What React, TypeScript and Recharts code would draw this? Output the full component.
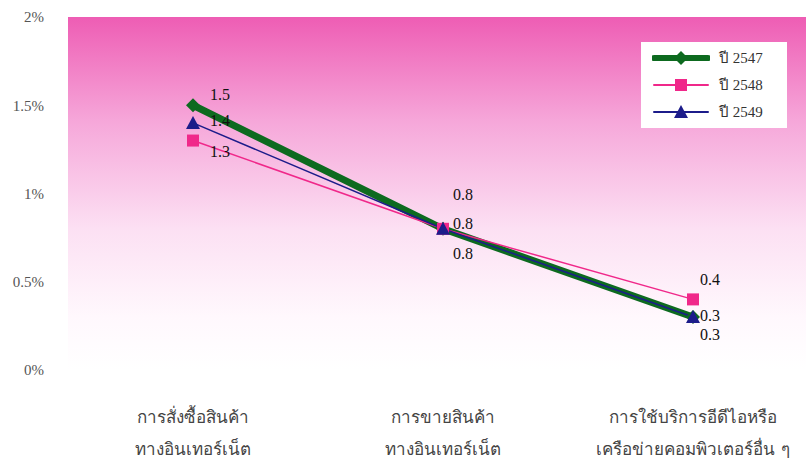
import React from "react";
import {
  CartesianGrid,
  Line,
  LineChart,
  XAxis,
  YAxis,
} from "recharts";

const categories = [
  ["การสั่งซื้อสินค้า", "ทางอินเทอร์เน็ต"],
  ["การขายสินค้า", "ทางอินเทอร์เน็ต"],
  ["การใช้บริการอีดีไอหรือ", "เครือข่ายคอมพิวเตอร์อื่น ๆ"],
];
const y2547 = [1.5, 0.8, 0.3];
const y2548 = [1.3, 0.8, 0.4];
const y2549 = [1.4, 0.8, 0.3];
const yTicks = [0, 0.5, 1, 1.5, 2];

const data = categories.map((c, i) => ({
  name: c.join("|"),
  y2547: y2547[i],
  y2548: y2548[i],
  y2549: y2549[i],
}));

// hand-placed label offsets, like the moved labels in the original
const labelOffsets: Record<string, [number, number][]> = {
  y2547: [[17, -11], [10, -34], [7, 17]],
  y2548: [[17, 11], [10, 25], [7, -20]],
  y2549: [[17, -2], [10, -5], [7, -2]],
};

const serif = "'Liberation Serif', 'Times New Roman', serif";
const thai = "Tahoma, 'DejaVu Sans', 'Noto Sans', sans-serif";

const series = [
  { key: "y2547", name: "ปี 2547", color: "#0d6a1f", width: 7, shape: "diamond" },
  { key: "y2548", name: "ปี 2548", color: "#f0288a", width: 1.5, shape: "square" },
  { key: "y2549", name: "ปี 2549", color: "#1c1c8a", width: 1.5, shape: "triangle" },
];

function Marker({ cx, cy, shape, color }: any) {
  if (cx == null || cy == null) return null;
  if (shape === "diamond")
    return <polygon points={`${cx},${cy - 7} ${cx + 7},${cy} ${cx},${cy + 7} ${cx - 7},${cy}`} fill={color} />;
  if (shape === "square")
    return <rect x={cx - 6} y={cy - 6} width={12} height={12} fill={color} />;
  return <polygon points={`${cx},${cy - 7} ${cx + 7},${cy + 6} ${cx - 7},${cy + 6}`} fill={color} />;
}

function makeLabel(key: string) {
  return (props: any) => {
    const { x, y, value, index } = props;
    const [dx, dy] = labelOffsets[key][index];
    return (
      <text x={x + dx} y={y + dy} dominantBaseline="central" fontFamily={serif} fontSize={16} fill="#111">
        {value}
      </text>
    );
  };
}

function XTick({ x, y, payload }: any) {
  const lines = String(payload.value).split("|");
  return (
    <g>
      {lines.map((l, i) => (
        <text key={i} x={x} y={y + 39 + i * 32} textAnchor="middle" dominantBaseline="central" fontFamily={thai} fontSize={17} fill="#444">
          {l}
        </text>
      ))}
    </g>
  );
}

function LegendBox() {
  return (
    <div style={{ position: "absolute", left: 641, top: 42, background: "#fff", width: 146, height: 86, boxSizing: "border-box", padding: "2px 0 0 11px" }}>
      {series.map((s) => (
        <div key={s.key} style={{ display: "flex", alignItems: "center", height: 27 }}>
          <svg width={58} height={16}>
            <line x1={2} y1={8} x2={56} y2={8} stroke={s.color} strokeWidth={s.width === 7 ? 6 : 2} strokeLinecap="round" />
            <Marker cx={29} cy={8} shape={s.shape} color={s.color} />
          </svg>
          <span style={{ marginLeft: 9, fontFamily: serif, fontSize: 15, color: "#333" }}>{s.name}</span>
        </div>
      ))}
    </div>
  );
}

export default function App() {
  return (
    <div style={{ position: "fixed", left: 0, top: 0, width: 806, height: 458, overflow: "hidden", background: "#fff" }}>
      <LineChart width={830} height={458} data={data} margin={{ top: 17, right: 12, bottom: 0, left: 0 }}>
        <defs>
          <linearGradient id="plotBg" x1="0" y1="0" x2="0" y2="1">
            <stop offset="0%" stopColor="#ee5db4" />
            <stop offset="30%" stopColor="#f6a8da" />
            <stop offset="60%" stopColor="#fce0f3" />
            <stop offset="85%" stopColor="#fff8fd" />
            <stop offset="100%" stopColor="#ffffff" />
          </linearGradient>
        </defs>
        <CartesianGrid horizontal={false} vertical={false} fill="url(#plotBg)" stroke="none" />
        <XAxis dataKey="name" height={88} axisLine={false} tickLine={false} tick={<XTick />} interval={0} padding={{ left: 125, right: 125 }} />
        <YAxis
          width={68}
          domain={[0, 2]}
          ticks={yTicks}
          axisLine={false}
          tickLine={false}
          tickSize={0}
          tickMargin={24}
          tickFormatter={(v) => `${v}%`}
          tick={{ fontFamily: serif, fontSize: 15, fill: "#555" }}
        />
        {series.map((s) => (
          <Line
            key={s.key}
            dataKey={s.key}
            name={s.name}
            type="linear"
            stroke={s.color}
            strokeWidth={s.width}
            dot={(p: any) => <Marker key={`${s.key}-${p.index}`} cx={p.cx} cy={p.cy} shape={s.shape} color={s.color} />}
            activeDot={false}
            label={makeLabel(s.key)}
            isAnimationActive={false}
          />
        ))}
      </LineChart>
      <LegendBox />
    </div>
  );
}
